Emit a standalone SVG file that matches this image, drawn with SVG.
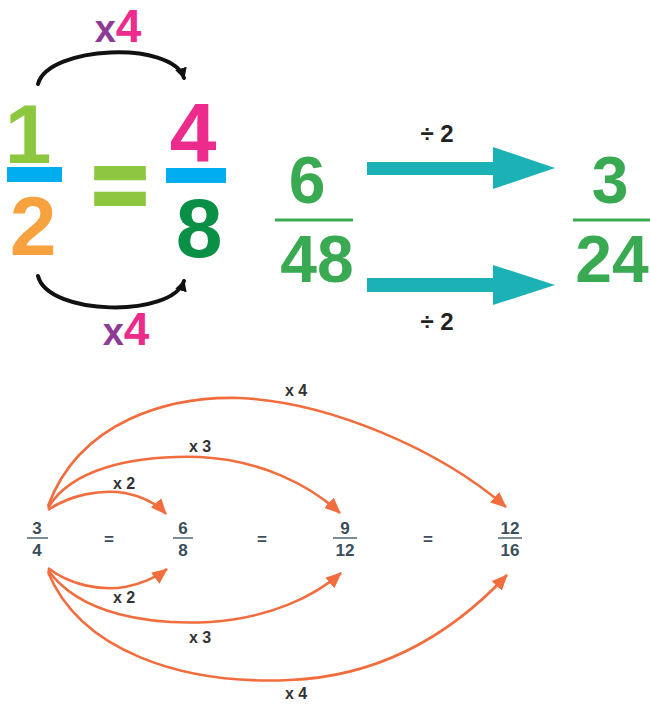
<svg xmlns="http://www.w3.org/2000/svg" width="650" height="704" viewBox="0 0 650 704">
<style>
.big{font-family:"Liberation Sans",Arial,sans-serif;font-weight:bold;text-anchor:middle}
.fr{font-family:"Liberation Sans",Arial,sans-serif;font-weight:bold;text-anchor:middle;fill:#3aaa52;font-size:66px}
.sm{font-family:"Liberation Sans",Arial,sans-serif;font-weight:bold;text-anchor:middle;fill:#3a4e5c;font-size:17px}
.lab{font-family:"Liberation Sans",Arial,sans-serif;font-weight:bold;text-anchor:middle;fill:#333;font-size:16px}
.div{font-family:"Liberation Sans",Arial,sans-serif;font-weight:bold;text-anchor:middle;fill:#222;font-size:24px}
.arc{fill:none;stroke:#111;stroke-width:4;stroke-linecap:round}
.orc{fill:none;stroke:#f26d3d;stroke-width:2.6}
.fl{stroke:#3aaa52;stroke-width:3}
.sl{stroke:#5a6e7a;stroke-width:1.6}
.teal{fill:#1cb2b5}
</style>
<defs>
<marker id="bh" markerWidth="12" markerHeight="12" refX="10" refY="6" orient="auto" markerUnits="userSpaceOnUse">
<path d="M0,0 L11,6 L0,12 Z" fill="#111"/>
</marker>
<marker id="oh" markerWidth="16" markerHeight="14" refX="15" refY="7" orient="auto" markerUnits="userSpaceOnUse">
<path d="M0,0 L16,7 L0,14 Z" fill="#f26d3d"/>
</marker>
</defs>

<g id="top-left">
<g id="half">
<text class="big" x="28" y="163" font-size="84" fill="#8dc63f">1</text>
<rect x="7" y="167" width="55" height="15" fill="#00aeef"/>
<text class="big" x="33" y="255" font-size="84" fill="#f7a13f">2</text>
</g>
<g id="eq-big">
<text class="big" x="120" y="217" font-size="95" fill="#8dc63f" stroke="#8dc63f" stroke-width="4">=</text>
</g>
<g id="four-eighths">
<text class="big" x="193" y="162" font-size="84" fill="#ec2b8c">4</text>
<rect x="166" y="168" width="60" height="15" fill="#00aeef"/>
<text class="big" x="199" y="257" font-size="84" fill="#0a8f46">8</text>
</g>
<g id="x4-top">
<text class="big" x="118" y="42"><tspan fill="#8e3b96" font-size="38">x</tspan><tspan fill="#ec2b8c" font-size="46">4</tspan></text>
</g>
<g id="x4-bottom">
<text class="big" x="126" y="345"><tspan fill="#8e3b96" font-size="38">x</tspan><tspan fill="#ec2b8c" font-size="46">4</tspan></text>
</g>
</g>

<g id="top-right">
<g id="six-48">
<text class="fr" x="307" y="203">6</text>
<line class="fl" x1="275" y1="220" x2="353" y2="220"/>
<text class="fr" x="317" y="282">48</text>
</g>
<g id="three-24">
<text class="fr" x="610" y="203">3</text>
<line class="fl" x1="573" y1="220" x2="652" y2="220"/>
<text class="fr" x="612" y="282">24</text>
</g>
<g id="div-labels">
<text class="div" x="437" y="142">÷ 2</text>
<text class="div" x="437" y="330">÷ 2</text>
</g>
</g>

<g id="bottom-nodes">
<g id="f34"><text class="sm" x="37" y="534">3</text><line class="sl" x1="27" y1="538" x2="48" y2="538"/><text class="sm" x="37" y="556">4</text></g>
<g id="eq1"><text class="sm" x="109" y="545" font-size="20">=</text></g>
<g id="f68"><text class="sm" x="183" y="534">6</text><line class="sl" x1="173" y1="538" x2="193" y2="538"/><text class="sm" x="183" y="556">8</text></g>
<g id="eq2"><text class="sm" x="262" y="545" font-size="20">=</text></g>
<g id="f912"><text class="sm" x="345" y="534">9</text><line class="sl" x1="333" y1="538" x2="357" y2="538"/><text class="sm" x="345" y="556">12</text></g>
<g id="eq3"><text class="sm" x="428" y="545" font-size="20">=</text></g>
<g id="f1216"><text class="sm" x="510" y="534">12</text><line class="sl" x1="498" y1="538" x2="522" y2="538"/><text class="sm" x="510" y="556">16</text></g>
</g>

<g id="connectors">
<polygon class="teal" points="367,162 493,162 493,147 555,168 493,189 493,175 367,175"/>
<polygon class="teal" points="367,278 493,278 493,265 555,285 493,305 493,292 367,292"/>
<path class="arc" d="M38,84 C48,46 172,40 184,78" marker-end="url(#bh)"/>
<path class="arc" d="M38,276 C48,316 172,318 184,281" marker-end="url(#bh)"/>
<path class="orc" d="M48,510 C70,495 100,489 125,493 C145,497 158,505 166,514" marker-end="url(#oh)"/>
<path class="orc" d="M48,508 C70,470 130,455 200,457 C260,460 310,485 340,513" marker-end="url(#oh)"/>
<path class="orc" d="M48,506 C80,420 170,396 240,398 C330,402 440,450 506,507" marker-end="url(#oh)"/>
<path class="orc" d="M48,568 C70,585 100,591 125,587 C145,583 158,576 167,569" marker-end="url(#oh)"/>
<path class="orc" d="M48,570 C80,615 150,625 210,622 C270,618 315,596 341,573" marker-end="url(#oh)"/>
<path class="orc" d="M48,572 C80,650 180,685 290,680 C390,676 460,625 507,575" marker-end="url(#oh)"/>
</g>

<g id="mult-labels">
<text class="lab" x="124" y="489">x 2</text>
<text class="lab" x="200" y="452">x 3</text>
<text class="lab" x="296" y="396">x 4</text>
<text class="lab" x="124" y="603">x 2</text>
<text class="lab" x="200" y="643">x 3</text>
<text class="lab" x="296" y="699">x 4</text>
</g>
</svg>
